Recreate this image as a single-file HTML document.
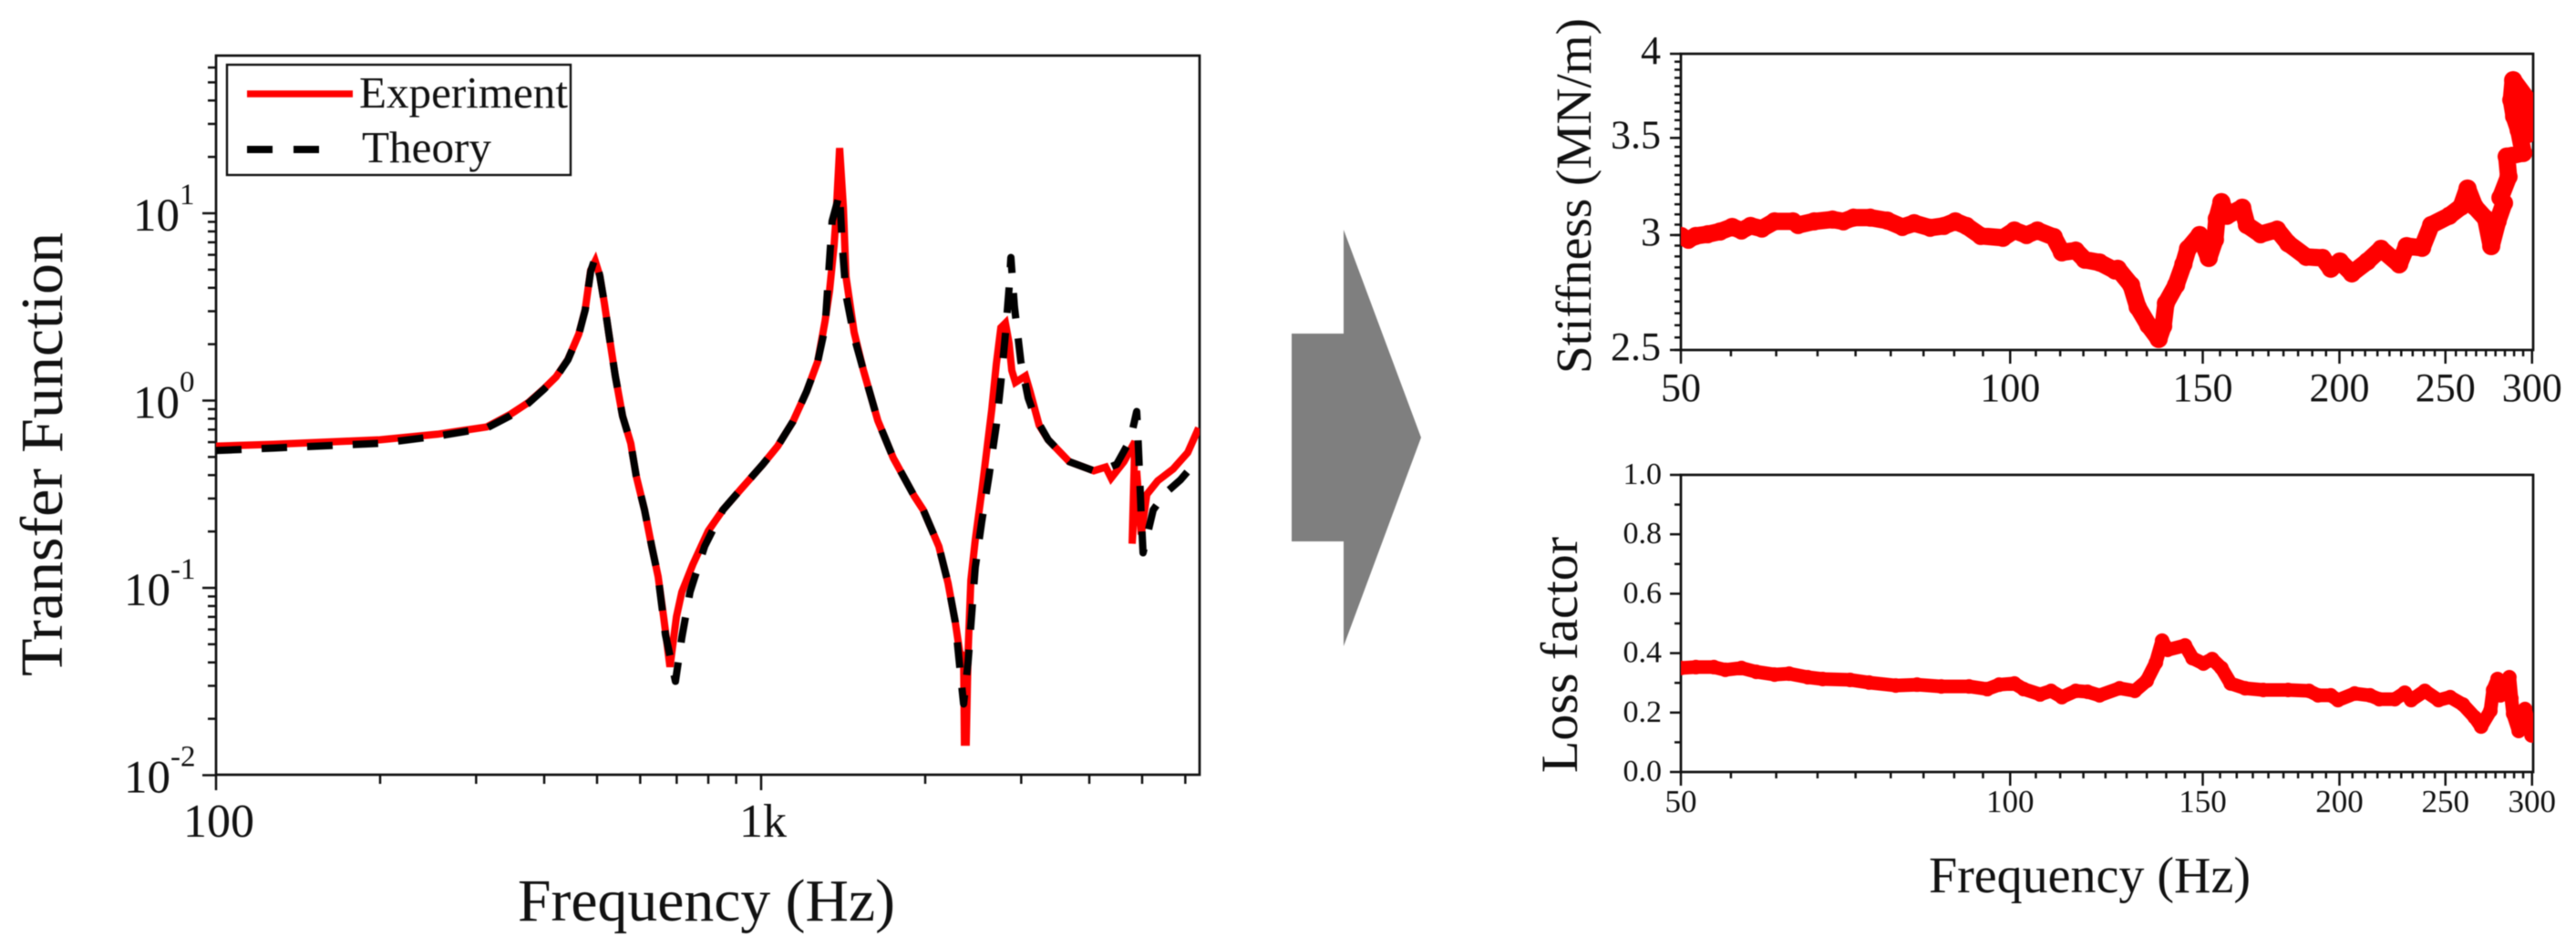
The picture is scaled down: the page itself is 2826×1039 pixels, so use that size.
<!DOCTYPE html>
<html lang="en">
<head>
<meta charset="utf-8">
<title>Transfer function, stiffness and loss factor</title>
<style>
html,body{margin:0;padding:0;background:#fff;width:2826px;height:1039px;overflow:hidden}
svg{display:block;filter:blur(.55px)}
text{font-family:"Liberation Serif",serif;fill:#111}
</style>
</head>
<body>
<svg id="figure" xmlns="http://www.w3.org/2000/svg" width="2826" height="1039" viewBox="0 0 2826 1039">
  <defs>
    <clipPath id="clip-tf"><rect x="237" y="61" width="1079" height="789"/></clipPath>
    <clipPath id="clip-k"><rect x="1844" y="59" width="935" height="325"/></clipPath>
    <clipPath id="clip-l"><rect x="1844" y="521" width="935" height="326"/></clipPath>
  </defs>
  <polygon points="1417,366 1474,366 1474,252 1559,480 1474,709 1474,594 1417,594" fill="#7f7f7f"/>

  <g id="tf-chart"></g>
  <g id="k-chart"></g>
  <g id="l-chart"></g>

  <text transform="translate(68,742) rotate(-90)" font-size="66" textLength="487" lengthAdjust="spacingAndGlyphs">Transfer Function</text>
  <text x="568" y="1010" font-size="66" textLength="414" lengthAdjust="spacingAndGlyphs">Frequency (Hz)</text>
  <text transform="translate(1745,410) rotate(-90)" font-size="55" textLength="390" lengthAdjust="spacingAndGlyphs">Stiffness (MN/m)</text>
  <text transform="translate(1730,848) rotate(-90)" font-size="57" textLength="259" lengthAdjust="spacingAndGlyphs">Loss factor</text>
  <text x="2116" y="979" font-size="56" textLength="353" lengthAdjust="spacingAndGlyphs">Frequency (Hz)</text>

  <g>
    <rect x="249" y="71" width="377" height="121" fill="#fff" stroke="#111" stroke-width="2.4"/>
    <line x1="271" y1="103" x2="387" y2="103" stroke="#ff0000" stroke-width="7.5"/>
    <text x="394" y="118" font-size="49" textLength="229" lengthAdjust="spacingAndGlyphs">Experiment</text>
    <line x1="271" y1="164" x2="350" y2="164" stroke="#000" stroke-width="8" stroke-dasharray="28 23"/>
    <text x="397" y="178" font-size="49" textLength="142" lengthAdjust="spacingAndGlyphs">Theory</text>
  </g>
</svg>
<script>
// ---- Transfer function data ----
const expFreq = [100,127.4,200,254.9,313.8,346.8,374.5,399.7,420.5,442.1,
463,475.7,486.8,496.2,505.9,515.7,525.7,540.1,557,576.7,
590,611.1,630.1,647.2,662.3,680.5,699.2,715.4,749.2,799.8,
850.6,918.7,1007,1072,1144,1212,1270,1310,1335,1361,
1371,1393,1415,1431,1481,1539,1637,1748,1910,1984,
2119,2202,2271,2315,2352,2360,2378,2397,2425,2471,
2539,2599,2649,2700,2753,2806,2850,2883,2928,3055,
3114,3236,3362,3675,4075,4287,4387,4629,4848,4793,
4886,4982,5099,5340,5699,6061,6348];
const expTF = [.571,.584,.618,.661,.723,.845,.978,1.157,1.338,1.656,
2.266,3.066,4.966,5.553,4.64,3.316,2.266,1.353,.827,.591,
.3945,.2606,.1665,.115,.0703,.0379,.0703,.0951,.133,.2014,
.2606,.3373,.4564,.571,.773,1.118,1.619,2.651,3.837,6.72,
9.09,22.3,10.76,4.59,2.317,1.464,.782,.4936,.3083,.2606,
.1665,.1064,.0657,.0449,.0434,.015,.015,.0449,.11,.1801,
.3261,.571,.894,1.565,2.45,2.592,2.026,1.447,1.251,1.353,
1.118,.739,.618,.472,.422,.4413,.3858,.472,.604,.1722,
.422,.1926,.3155,.3731,.4315,.528,.7145];
const theoryFreq = [100,127.4,200,254.9,313.8,346.8,374.5,399.7,420.5,442.1,
463,475.7,486.8,496.2,505.9,515.7,525.7,540.1,557,576.7,
590,611.1,630.1,647.2,667.4,680.5,696.4,715.4,740.7,787.6,
850.6,918.7,1007,1072,1144,1212,1270,1310,1350,1393,
1408,1431,1481,1539,1637,1748,1910,1984,2119,2202,
2271,2315,2352,2397,2471,2539,2618,2700,2753,2806,
2850,2872,2916,2995,3089,3174,3362,3675,4075,4287,
4489,4757,4886,4905,4943,4982,5020,5238,5506,5877,6178,6348];
const theoryTF = [.541,.558,.591,.646,.7145,.83,.97,1.15,1.33,1.65,
2.26,3.05,4.9,5.81,4.64,3.316,2.266,1.353,.827,.591,
.3945,.2606,.1665,.115,.0562,.0434,.0317,.0543,.0951,.1665,
.2606,.3373,.4564,.571,.773,1.118,1.619,2.45,9.09,12.72,
6.87,3.67,2.19,1.464,.782,.4936,.3083,.2606,.1665,.1064,
.0657,.0375,.024,.0401,.1287,.2254,.3945,.739,1.251,2.266,
3.967,5.81,3.172,1.619,1.034,.827,.618,.472,.422,.4315,
.4564,.618,.874,.7145,.422,.241,.154,.2606,.319,.3773,.4464,.4828];
const tfXMajor = [100,1000];
const tfXMajorLabels = ["100","1k"];
const tfXMinor = [200,300,400,500,600,700,800,900,2000,3000,4000,5000,6000];
const tfYDecades = [-2,-1,0,1];

// ---- Stiffness data ----
const stiffFreq = [50,50.8,51.6,52.9,54.3,55.7,56.8,57.9,59.3,60.9,63.3,64,66.2,68.8,70.4,71.9,74.5,77.2,79.7,81.7,
84.5,87,89.1,91.2,94,98.5,100.9,103.5,105.9,109.6,111.5,114.8,117,120.7,124.7,125.4,129,130.8,133.8,136.7,
138,138.8,141.8,144,145.4,149,151.9,153.9,154.5,156,157.8,163,164.6,169.4,175.4,179.5,186.5,193,196.4,200.2,
205.3,212.1,218.3,226.8,230.4,238,242.6,252,258.4,261.9,265.9,272.1,275.3,279,282.8,280.7,285.5,284.4,294.5,291.7,
288.9,287.2,288.3,297.4,297.4,299.7];
const stiffness = [2.996,2.978,2.996,3.004,3.017,3.039,3.022,3.044,3.031,3.066,3.066,3.048,3.066,3.075,3.066,3.084,3.084,3.07,3.039,3.057,
3.035,3.044,3.066,3.044,2.996,2.987,3.022,3,3.022,2.991,2.919,2.927,2.885,2.872,2.836,2.844,2.771,2.676,2.6,2.544,
2.596,2.692,2.771,2.864,2.935,3,2.893,2.978,3.079,3.161,3.093,3.133,3.048,3.004,3.026,2.961,2.898,2.893,2.844,2.877,
2.823,2.877,2.935,2.864,2.948,2.94,3.048,3.093,3.138,3.23,3.138,3.079,2.948,3.066,3.156,3.183,3.291,3.398,3.417,3.543,
3.621,3.717,3.836,3.717,3.522,3.647];
const stiffMajor = [2.5,3,3.5,4];
const stiffMajorLabels = ["2.5","3","3.5","4"];
const stiffMinorStep = 0.05;

// ---- Loss factor data ----
const lossFreq = [50,51.6,53.6,54.9,56.8,58.6,60.9,62.8,65.3,67.4,71.4,74.3,78.6,82.2,86.5,91.7,95.3,97.7,100.9,102.9,
106.5,109,111.5,114.8,117.7,120.7,125.9,130,133.3,135.9,137.7,139.3,144.5,146.8,150.2,153,156,159.1,164,170.4,
179.5,187.6,191.2,196.4,199.4,206.5,213.3,217.5,224.7,229.5,232.6,239.4,246.4,252.5,259.4,265.9,269.5,274.8,276.4,279,
280.7,286,287.2,288.3,291.7,295.6,299.7];
const lossFactor = [.35,.353,.353,.344,.35,.337,.328,.331,.319,.313,.31,.301,.291,.294,.288,.288,.279,.294,.298,.279,
.261,.273,.252,.273,.27,.258,.282,.273,.307,.368,.442,.411,.426,.383,.365,.38,.35,.298,.282,.276,
.276,.273,.258,.258,.242,.264,.258,.245,.245,.267,.242,.273,.242,.252,.227,.184,.153,.206,.276,.313,
.258,.319,.248,.196,.138,.212,.123];
const lossMajor = [0,.2,.4,.6,.8,1];
const lossMajorLabels = ["0.0","0.2","0.4","0.6","0.8","1.0"];
const lossMinor = [.1,.3,.5,.7,.9];

// ---- Shared frequency ticks for the right-hand charts ----
const rightXMajor = [50,100,150,200,250,300];
const rightXMinorPerInterval = 8;

// ---- Axis functions ----
const tfX = f => 237 + 598 * Math.log10(f / 100);
const tfY = v => 439.5 - 205.5 * Math.log10(v);
const rX = f => 1844 + 1200 * Math.log10(f / 50);
const kY = s => 59 + 1592 * Math.log10(4 / s);
const lY = v => 847 - 326 * v;

const NS = "http://www.w3.org/2000/svg";
function mk(parent, tag, props, text) {
  const el = document.createElementNS(NS, tag);
  for (const k in props) el.setAttribute(k, props[k]);
  if (text !== undefined) el.textContent = text;
  parent.appendChild(el);
  return el;
}
function tickLine(parent, name, x1, y1, x2, y2) {
  const el = mk(parent, "line", {x1, y1, x2, y2, stroke: "#111", "stroke-width": 2.5});
  
  
}
function label(parent, name, x, y, size, anchor, str) {
  const el = mk(parent, "text", {x, y, "font-size": size, "text-anchor": anchor}, str);
  
  
  return el;
}
function frame(parent, name, x, y, w, h) {
  const el = mk(parent, "rect", {x, y, width: w, height: h, fill: "none", stroke: "#111", "stroke-width": 2.7});
  
  
}
function series(parent, name, xs, ys, style) {
  const pts = xs.map((x, i) => x.toFixed(1) + "," + ys[i].toFixed(1)).join(" ");
  const el = mk(parent, "polyline", Object.assign({points: pts, fill: "none"}, style));
  
  
  return el;
}

// ---- Left chart ----
const tf = document.getElementById("tf-chart");
frame(tf, "tf-plot-frame", 237, 61, 1079, 789);
tfXMajor.forEach((f, i) => {
  tickLine(tf, "tf-x-major-tick", tfX(f), 850, tfX(f), 867);
  label(tf, "tf-x-tick-label", tfX(f) + (i === 0 ? 3 : 2), 918, 52, "middle", tfXMajorLabels[i]);
});
tfXMinor.forEach(f => tickLine(tf, "tf-x-minor-tick", tfX(f), 850, tfX(f), 860));
tfYDecades.forEach(e => {
  const y = tfY(Math.pow(10, e));
  tickLine(tf, "tf-y-major-tick", 222, y, 237, y);
  const ten = label(tf, "tf-y-tick-label", 187, y + 19, 51, "end", "10");
  const sup = label(tf, "tf-y-tick-exponent", 187, y - 10, 33, "start", String(e));
  if (e >= 0) {
    ten.setAttribute("x", 197);
    sup.setAttribute("x", 197);
  }
  for (let m = 2; m <= 9; m++) {
    const my = tfY(m * Math.pow(10, e));
    if (my > 61) tickLine(tf, "tf-y-minor-tick", 228, my, 237, my);
  }
});
const tfSeries = mk(tf, "g", {"clip-path": "url(#clip-tf)"});
series(tfSeries, "experiment-line", expFreq.map(tfX), expTF.map(tfY),
  {stroke: "#ff0000", "stroke-width": 8, "stroke-linejoin": "miter", "stroke-miterlimit": 3});
series(tfSeries, "theory-line", theoryFreq.map(tfX), theoryTF.map(tfY),
  {stroke: "#000", "stroke-width": 8, "stroke-dasharray": "28 22", "stroke-linejoin": "round"});

// ---- Right-hand x ticks ----
function rightXAxis(parent, prefix, baseY, labelY, size) {
  rightXMajor.forEach((f, i) => {
    tickLine(parent, prefix + "-x-major-tick", rX(f), baseY, rX(f), baseY + 15);
    label(parent, prefix + "-x-tick-label", rX(f), labelY, size, "middle", String(f));
    if (i < rightXMajor.length - 1) {
      const step = (rightXMajor[i + 1] - f) / (rightXMinorPerInterval + 1);
      for (let k = 1; k <= rightXMinorPerInterval; k++) {
        tickLine(parent, prefix + "-x-minor-tick", rX(f + k * step), baseY, rX(f + k * step), baseY + 7);
      }
    }
  });
}

// ---- Stiffness chart ----
const kc = document.getElementById("k-chart");
frame(kc, "stiffness-plot-frame", 1844, 59, 935, 325);
rightXAxis(kc, "stiffness", 384, 440, 44);
stiffMajor.forEach((s, i) => {
  tickLine(kc, "stiffness-y-major-tick", 1832, kY(s), 1844, kY(s));
  label(kc, "stiffness-y-tick-label", 1822, kY(s) + 11, 44, "end", stiffMajorLabels[i]);
});
for (let s = 2.5; s < 3.999; s += stiffMinorStep) {
  tickLine(kc, "stiffness-y-minor-tick", 1837, kY(s), 1844, kY(s));
}
const kSeries = mk(kc, "g", {"clip-path": "url(#clip-k)"});
series(kSeries, "stiffness-trace", stiffFreq.map(rX), stiffness.map(kY),
  {stroke: "#ff0000", "stroke-width": 19, "stroke-linejoin": "round"});
stiffFreq.forEach((f, i) => {
  const c = mk(kSeries, "circle", {cx: rX(f), cy: kY(stiffness[i]), r: 10, fill: "#ff0000"});
  
  
});

// ---- Loss factor chart ----
const lc = document.getElementById("l-chart");
frame(lc, "loss-plot-frame", 1844, 521, 935, 326);
rightXAxis(lc, "loss", 847, 891, 35);
lossMajor.forEach((v, i) => {
  tickLine(lc, "loss-y-major-tick", 1832, lY(v), 1844, lY(v));
  label(lc, "loss-y-tick-label", 1823, lY(v) + 10, 34, "end", lossMajorLabels[i]);
});
lossMinor.forEach(v => tickLine(lc, "loss-y-minor-tick", 1837, lY(v), 1844, lY(v)));
const lSeries = mk(lc, "g", {"clip-path": "url(#clip-l)"});
series(lSeries, "loss-trace", lossFreq.map(rX), lossFactor.map(lY),
  {stroke: "#ff0000", "stroke-width": 15, "stroke-linejoin": "round"});
lossFreq.forEach((f, i) => {
  const c = mk(lSeries, "circle", {cx: rX(f), cy: lY(lossFactor[i]), r: 8, fill: "#ff0000"});
  
  
});
</script>
</body>
</html>
